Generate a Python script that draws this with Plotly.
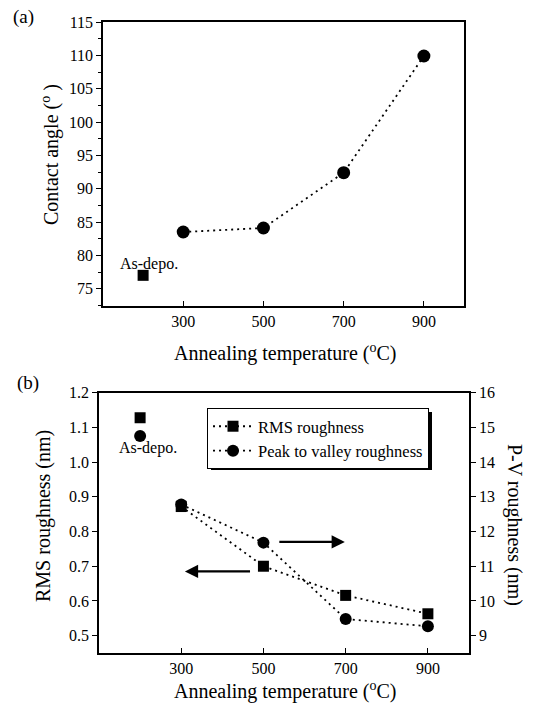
import plotly.graph_objects as go

# ---------------- data ----------------
asdepo_x = [200]
temps = [300, 500, 700, 900]
temp_ticks = [300, 500, 700, 900]

# (a) contact angle
contact_asdepo = [77.0]
contact_angle = [83.5, 84.1, 92.4, 109.9]

# (b) roughness
rms_asdepo = [1.128]
rms = [0.872, 0.70, 0.616, 0.563]
pv_asdepo = [14.75]
pv = [12.78, 11.68, 9.48, 9.27]

W, H = 534, 704
FONT = "Liberation Serif, Times New Roman, DejaVu Serif, serif"
DOT = "2px,4px"


def px(x):
    return x / W


def py(y):
    return 1 - y / H


fig = go.Figure()

# ---- panel (a)
fig.add_trace(go.Scatter(x=asdepo_x, y=contact_asdepo, mode="markers",
                         marker=dict(symbol="square", size=11, color="black"),
                         showlegend=False, xaxis="x", yaxis="y"))
fig.add_trace(go.Scatter(x=temps, y=contact_angle, mode="lines+markers",
                         line=dict(color="black", width=1.8, dash=DOT),
                         marker=dict(symbol="circle", size=13, color="black"),
                         showlegend=False, xaxis="x", yaxis="y"))

# ---- panel (b)
fig.add_trace(go.Scatter(x=asdepo_x, y=rms_asdepo, mode="markers",
                         marker=dict(symbol="square", size=11, color="black"),
                         showlegend=False, xaxis="x2", yaxis="y2"))
fig.add_trace(go.Scatter(x=temps, y=rms, mode="lines+markers", name="RMS roughness",
                         line=dict(color="black", width=1.8, dash=DOT),
                         marker=dict(symbol="square", size=11, color="black"),
                         xaxis="x2", yaxis="y2"))
fig.add_trace(go.Scatter(x=asdepo_x, y=pv_asdepo, mode="markers",
                         marker=dict(symbol="circle", size=12, color="black"),
                         showlegend=False, xaxis="x2", yaxis="y3"))
fig.add_trace(go.Scatter(x=temps, y=pv, mode="lines+markers", name="Peak to valley roughness",
                         line=dict(color="black", width=1.8, dash=DOT),
                         marker=dict(symbol="circle", size=12, color="black"),
                         xaxis="x2", yaxis="y3"))

axis_common = dict(showline=True, linecolor="black", linewidth=1.5, showgrid=False,
                   zeroline=False, tickcolor="black", tickwidth=1.2, ticklen=5,
                   tickfont=dict(family=FONT, size=16, color="black"), automargin=False)

fig.update_layout(
    width=W, height=H, margin=dict(l=0, r=0, t=0, b=0),
    paper_bgcolor="white", plot_bgcolor="white", template="none",
    font=dict(family=FONT, size=16, color="black"),
    xaxis=dict(domain=[px(103), px(464)], range=[100, 1000], tickvals=temp_ticks,
               ticks="inside", mirror=True, anchor="y", **axis_common),
    yaxis=dict(domain=[py(306), py(22)], range=[72.4, 115], dtick=5, tick0=75,
               ticks="outside", mirror=True, anchor="x",
               minor=dict(dtick=2.5, tick0=75, ticks="outside", ticklen=3,
                          tickcolor="black", tickwidth=1),
               **axis_common),
    xaxis2=dict(domain=[px(99), px(469)], range=[100, 1000], tickvals=temp_ticks,
                ticks="inside", mirror=True, anchor="y2", **axis_common),
    yaxis2=dict(domain=[py(653), py(392.7)], range=[0.45, 1.2], dtick=0.1, tick0=0.5,
                tickformat=".1f", ticks="outside", anchor="x2", mirror=True, **axis_common),
    yaxis3=dict(range=[8.5, 16], dtick=1, tick0=9, ticks="outside", side="right",
                overlaying="y2", anchor="x2", **axis_common),
    legend=dict(x=px(207), y=py(408), xanchor="left", yanchor="top",
                bgcolor="white", bordercolor="black", borderwidth=1,
                font=dict(family=FONT, size=16.5, color="black"),
                itemwidth=40, tracegroupgap=0),
    showlegend=True,
)

# legend shadow
fig.add_shape(type="rect", xref="paper", yref="paper",
              x0=px(211), x1=px(432), y0=py(470), y1=py(412),
              fillcolor="black", line=dict(width=0), layer="above")

ann = []
tfont = dict(family=FONT, size=20, color="black")


def lab(text, x, y, ref=("paper", "paper"), font=tfont, angle=0):
    return dict(text=text, x=x, y=y, xref=ref[0], yref=ref[1], showarrow=False,
                font=font, textangle=angle, xanchor="center", yanchor="middle")


ann.append(lab("(a)", px(23), py(17), font=dict(family=FONT, size=19, color="black")))
ann.append(lab("(b)", px(28), py(383), font=dict(family=FONT, size=19, color="black")))
ann.append(lab("Contact angle (<sup>o</sup> )", px(50), py(155), angle=-90))
ann.append(lab("Annealing temperature (<sup>o</sup>C)", px(285), py(352)))
ann.append(lab("RMS roughness (nm)", px(43), py(516), angle=-90))
ann.append(lab("P-V roughness (nm)", px(515), py(525), angle=90))
ann.append(lab("Annealing temperature (<sup>o</sup>C)", px(285), py(690)))
ann.append(lab("As-depo.", 215, 78.7, ref=("x", "y"),
               font=dict(family=FONT, size=16, color="black")))
ann.append(lab("As-depo.", 219, 1.041, ref=("x2", "y2"),
               font=dict(family=FONT, size=16, color="black")))
# arrows indicating axes
ann.append(dict(text="", x=698, y=0.770, ax=535, ay=0.770, xref="x2", yref="y2",
                axref="x2", ayref="y2", showarrow=True, arrowhead=2, arrowsize=1.2,
                arrowwidth=2.2, arrowcolor="black"))
ann.append(dict(text="", x=309, y=0.685, ax=471, ay=0.685, xref="x2", yref="y2",
                axref="x2", ayref="y2", showarrow=True, arrowhead=2, arrowsize=1.2,
                arrowwidth=2.2, arrowcolor="black"))
fig.update_layout(annotations=ann)

fig.write_html("out.html")
